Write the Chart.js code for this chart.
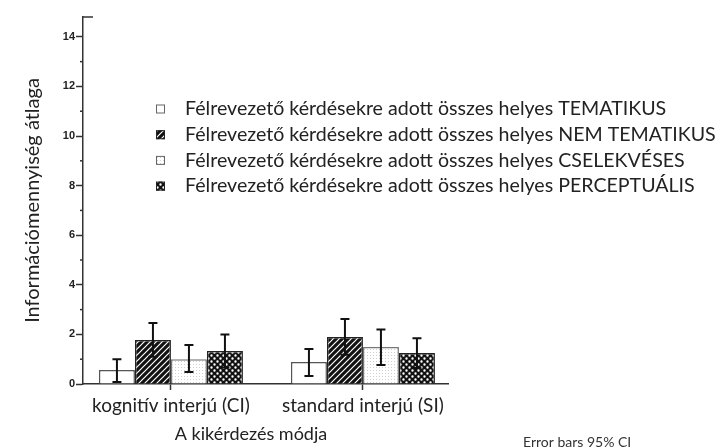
<!DOCTYPE html>
<html>
<head>
<meta charset="utf-8">
<script src="https://cdn.jsdelivr.net/npm/chart.js@4.4.1/dist/chart.umd.min.js"></script>
<style>
  body { margin: 0; background: #fff; }
</style>
</head>
<body>
<canvas id="myChart" width="723" height="448"></canvas>
<script>
// data
var categories = ["kognitív interjú (CI)", "standard interjú (SI)"];
var seriesLabels = [
  "Félrevezető kérdésekre adott összes helyes TEMATIKUS",
  "Félrevezető kérdésekre adott összes helyes NEM TEMATIKUS",
  "Félrevezető kérdésekre adott összes helyes CSELEKVÉSES",
  "Félrevezető kérdésekre adott összes helyes PERCEPTUÁLIS"
];
var tematikus = [0.56, 0.89];
var nemTematikus = [1.77, 1.90];
var cselekveses = [1.00, 1.49];
var perceptualis = [1.33, 1.25];

var ciLow = [[0.08, 0.32], [1.10, 1.18], [0.48, 0.77], [0.67, 0.65]];
var ciHigh = [[1.00, 1.41], [2.46, 2.62], [1.57, 2.20], [2.00, 1.85]];

var yTicks = [0, 1, 2, 3, 4, 5, 6, 7, 8, 9, 10, 11, 12, 13, 14];
var xTitle = "A kikérdezés módja";

function makePattern(kind) {
  var c = document.createElement("canvas");
  var ctx = c.getContext("2d");
  if (kind == "hatch") {
    c.width = 6; c.height = 6;
    ctx.fillStyle = "#111";
    ctx.fillRect(0, 0, 6, 6);
    ctx.strokeStyle = "#fff";
    ctx.lineWidth = 1.2;
    ctx.beginPath();
    ctx.moveTo(-1, 7); ctx.lineTo(7, -1);
    ctx.moveTo(-4, 4); ctx.lineTo(4, -4);
    ctx.moveTo(2, 10); ctx.lineTo(10, 2);
    ctx.stroke();
  } else if (kind == "dots") {
    c.width = 3; c.height = 3;
    ctx.fillStyle = "#fff";
    ctx.fillRect(0, 0, 3, 3);
    ctx.fillStyle = "#cfcfcf";
    ctx.fillRect(1, 1, 1, 1);
  } else if (kind == "check") {
    c.width = 6; c.height = 6;
    ctx.fillStyle = "#111";
    ctx.fillRect(0, 0, 6, 6);
    ctx.fillStyle = "#fff";
    ctx.beginPath();
    ctx.arc(1.5, 1.5, 1.2, 0, Math.PI * 2);
    ctx.arc(4.5, 4.5, 1.2, 0, Math.PI * 2);
    ctx.fill();
  }
  return ctx.createPattern(c, "repeat");
}

var fills = ["#ffffff", makePattern("hatch"), makePattern("dots"), makePattern("check")];
var borders = ["#555", "#222", "#777", "#222"];
var values = [tematikus, nemTematikus, cselekveses, perceptualis];

var datasets = values.map(function (v, i) {
  return {
    label: seriesLabels[i],
    data: v.map(function (y, j) { return { x: j, y: y }; }),
    backgroundColor: fills[i],
    borderColor: borders[i],
    borderWidth: 1.5,
    barPercentage: 1,
    categoryPercentage: 0.75
  };
});

// error bars, minor ticks, legend and note
var extras = {
  id: "extras",
  afterDatasetsDraw: function (chart) {
    var ctx = chart.ctx;
    var yScale = chart.scales.y;
    ctx.save();
    ctx.strokeStyle = "#111";
    ctx.lineWidth = 2;
    chart.data.datasets.forEach(function (ds, i) {
      var meta = chart.getDatasetMeta(i);
      meta.data.forEach(function (bar, j) {
        var x = bar.x;
        var lo = yScale.getPixelForValue(ciLow[i][j]);
        var hi = yScale.getPixelForValue(ciHigh[i][j]);
        ctx.beginPath();
        ctx.moveTo(x, lo); ctx.lineTo(x, hi);
        ctx.moveTo(x - 4.5, lo); ctx.lineTo(x + 4.5, lo);
        ctx.moveTo(x - 4.5, hi); ctx.lineTo(x + 4.5, hi);
        ctx.stroke();
      });
    });
    ctx.restore();
  },
  afterDraw: function (chart) {
    var ctx = chart.ctx;
    var yScale = chart.scales.y;
    var left = chart.chartArea.left;
    ctx.save();
    ctx.strokeStyle = "#333";
    ctx.lineWidth = 1.5;
    yTicks.forEach(function (t) {
      if (t % 2 == 1) {
        var y = yScale.getPixelForValue(t);
        ctx.beginPath();
        ctx.moveTo(left - 3, y); ctx.lineTo(left, y);
        ctx.stroke();
      }
    });
    ctx.beginPath();
    ctx.moveTo(left, chart.chartArea.top); ctx.lineTo(left + 10, chart.chartArea.top);
    ctx.stroke();

    // legend
    ctx.font = "19.6px Lato";
    ctx.textBaseline = "middle";
    chart.data.datasets.forEach(function (ds, i) {
      var y = 109 + i * 25.7;
      ctx.fillStyle = ds.backgroundColor;
      ctx.fillRect(156, y - 4.5, 9, 9);
      ctx.strokeStyle = i == 0 || i == 2 ? "#666" : "#222";
      ctx.lineWidth = 1;
      ctx.strokeRect(156.5, y - 4, 8, 8);
      ctx.fillStyle = "#222";
      ctx.fillText(ds.label, 185, y);
    });

    // x axis title, a bit left of the axis centre as in the original
    ctx.font = "18px Lato";
    ctx.textAlign = "center";
    ctx.fillText(xTitle, 251, 434);

    ctx.textAlign = "left";
    ctx.font = "14px Lato";
    ctx.fillStyle = "#333";
    ctx.fillText("Error bars 95% CI", 523, 442);
    ctx.restore();
  }
};

var myChart = document.getElementById("myChart").getContext("2d");
var chart = new Chart(myChart, {
  type: "bar",
  data: { datasets: datasets },
  plugins: [extras],
  options: {
    responsive: false,
    animation: false,
    layout: { padding: { top: 17, right: 275, bottom: 0, left: 0 } },
    plugins: {
      legend: { display: false },
      tooltip: { enabled: false }
    },
    scales: {
      x: {
        type: "linear",
        offset: false,
        min: -0.458,
        max: 1.443,
        afterBuildTicks: function (scale) {
          scale.ticks = categories.map(function (c, i) { return { value: i }; });
        },
        afterFit: function (scale) { scale.height = 64; },
        ticks: {
          callback: function (v) { return categories[v]; },
          font: { family: "Lato", size: 19 },
          color: "#222",
          padding: 4,
          maxRotation: 0
        },
        grid: { offset: false, drawOnChartArea: false, tickLength: 6, tickColor: "#333", tickWidth: 1.5 },
        border: { color: "#333", width: 1.5 }
      },
      y: {
        min: 0,
        max: 14.8,
        afterBuildTicks: function (scale) {
          scale.ticks = yTicks.map(function (t) { return { value: t }; });
        },
        afterFit: function (scale) { scale.width = 83; },
        ticks: {
          callback: function (v) { return v % 2 == 0 ? v : ""; },
          font: { family: "Liberation Sans", size: 11, weight: "bold" },
          color: "#222",
          padding: 1
        },
        grid: {
          drawOnChartArea: false,
          tickLength: 7,
          tickWidth: 1.5,
          tickColor: function (c) { return c.tick && c.tick.value % 2 == 0 ? "#333" : "rgba(0,0,0,0)"; }
        },
        border: { color: "#333", width: 1.5 },
        title: {
          display: true,
          text: "Információmennyiség átlaga",
          font: { family: "Lato", size: 20 },
          color: "#222",
          padding: { top: 21, bottom: 0 }
        }
      }
    }
  }
});
</script>
</body>
</html>
